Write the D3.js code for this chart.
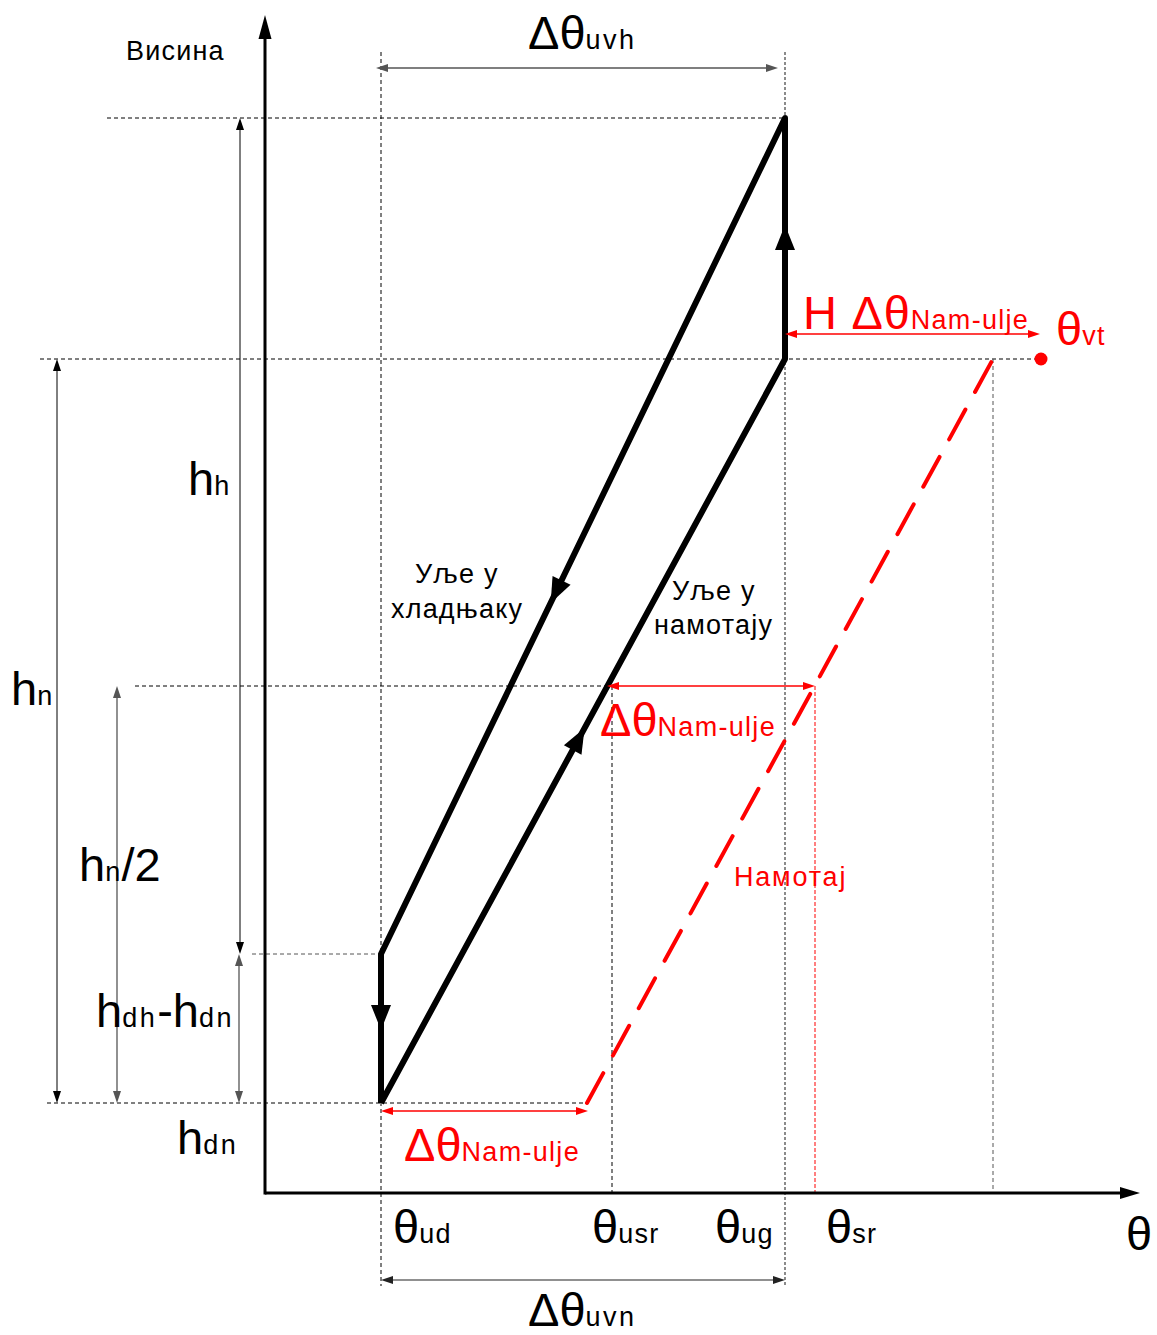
<!DOCTYPE html>
<html><head><meta charset="utf-8">
<script src="https://cdn.jsdelivr.net/npm/d3@7"></script>
<style>body{margin:0;background:#fff}svg{display:block}text{font-family:"Liberation Sans",Arial,sans-serif}</style>
</head><body>
<script>
// ---- data (diagram units) ----
const thetaKeys   = ["ud", "usr", "ug", "sr"];
const thetaValues = [116, 347, 520, 550];
const windingBottomTheta = 322;   // red dashed line start (at h_dn)
const windingTopTheta    = 728;   // red dashed line end (at h_n)
const hotSpotTheta       = 776;   // θvt
const heightKeys   = ["dn", "dh", "half", "n", "h"];
const heightValues = [90, 239, 507, 834, 1075];

const W = 1157, H = 1335;
const x = d3.scaleLinear().domain([0, 875]).range([265, 1140]);
const y = d3.scaleLinear().domain([0, 1178]).range([1193, 15]);
const T = Object.fromEntries(thetaKeys.map((k, i) => [k, thetaValues[i]]));
const Hh = Object.fromEntries(heightKeys.map((k, i) => [k, heightValues[i]]));

const svg = d3.select("body").append("svg").attr("width", W).attr("height", H);
const RED = "#ff0000";

function arrowHead(g, tx, ty, angle, color, len, wid) {
  const ca = Math.cos(angle), sa = Math.sin(angle);
  const bx = tx - len * ca, by = ty - len * sa;
  const px = -sa * wid / 2, py = ca * wid / 2;
  g.append("path").attr("d", `M${tx},${ty}L${bx + px},${by + py}L${bx - px},${by - py}Z`).attr("fill", color);
}
function dimLine(x1, y1, x2, y2, color, sw, len = 12, wid = 8) {
  const g = svg.append("g");
  const a = Math.atan2(y2 - y1, x2 - x1);
  const sx = x1 + Math.cos(a) * len * 0.8, sy = y1 + Math.sin(a) * len * 0.8;
  const ex = x2 - Math.cos(a) * len * 0.8, ey = y2 - Math.sin(a) * len * 0.8;
  g.append("line").attr("x1", sx).attr("y1", sy).attr("x2", ex).attr("y2", ey).attr("stroke", color).attr("stroke-width", sw);
  arrowHead(g, x2, y2, a, color, len, wid);
  arrowHead(g, x1, y1, a + Math.PI, color, len, wid);
}
function dashed(x1, y1, x2, y2, color = "#000", sw = 1, dash = "4,3") {
  svg.append("line").attr("x1", x1).attr("y1", y1).attr("x2", x2).attr("y2", y2)
    .attr("stroke", color).attr("stroke-width", sw).attr("stroke-dasharray", dash);
}
function label(px, py, parts, color = "#000") {
  const t = svg.append("text").attr("x", px).attr("y", py).attr("fill", color);
  parts.forEach(([s, fs, ls]) => {
    const sp = t.append("tspan").attr("font-size", fs).text(s);
    if (ls) sp.attr("letter-spacing", ls);
  });
  return t;
}

// ---- dashed guide lines ----
dashed(107, y(Hh.h), x(T.ug), y(Hh.h));
dashed(40, y(Hh.n), x(hotSpotTheta), y(Hh.n));
dashed(135, y(Hh.half), x(T.usr), y(Hh.half));
dashed(252, y(Hh.dh), x(T.ud), y(Hh.dh), "#555");
dashed(47, y(Hh.dn), x(windingBottomTheta), y(Hh.dn));
dashed(x(T.ud), 52, x(T.ud), 1286);
dashed(x(T.ug), 52, x(T.ug), 1286, "#666", 1.5, "3,2");
dashed(x(T.usr), y(Hh.half), x(T.usr), y(0));
dashed(x(T.sr), y(Hh.half), x(T.sr), y(0), RED, 1, "4,2");
dashed(x(windingTopTheta), y(Hh.n), x(windingTopTheta), y(0), "#555", 1, "4,3");

// ---- axes ----
const ax = svg.append("g");
ax.append("line").attr("x1", x(0)).attr("y1", y(0) + 1.5).attr("x2", x(0)).attr("y2", y(1178) + 20).attr("stroke", "#000").attr("stroke-width", 3);
arrowHead(ax, x(0), y(1178), -Math.PI / 2, "#000", 24, 13);
ax.append("line").attr("x1", x(0)).attr("y1", y(0)).attr("x2", x(875) - 20).attr("y2", y(0)).attr("stroke", "#000").attr("stroke-width", 3);
arrowHead(ax, x(875), y(0), 0, "#000", 20, 12);

// ---- black oil loop ----
const loop = [[T.ud, Hh.dn], [T.ug, Hh.n], [T.ug, Hh.h], [T.ud, Hh.dh], [T.ud, Hh.dn]];
svg.append("path").datum(loop)
  .attr("d", d3.line().x(d => x(d[0])).y(d => y(d[1])))
  .attr("fill", "none").attr("stroke", "#000").attr("stroke-width", 6).attr("stroke-linejoin", "round");
const flowArrows = [[0, 0.504], [1, 0.556], [2, 0.58], [3, 0.51]];
flowArrows.forEach(([i, t]) => {
  const p0 = loop[i], p1 = loop[i + 1];
  const X0 = x(p0[0]), Y0 = y(p0[1]), X1 = x(p1[0]), Y1 = y(p1[1]);
  const a = Math.atan2(Y1 - Y0, X1 - X0);
  arrowHead(svg, X0 + (X1 - X0) * t, Y0 + (Y1 - Y0) * t, a, "#000", 25, 20);
});

// ---- red winding line ----
svg.append("line")
  .attr("x1", x(windingBottomTheta)).attr("y1", y(Hh.dn))
  .attr("x2", x(windingTopTheta)).attr("y2", y(Hh.n))
  .attr("stroke", RED).attr("stroke-width", 4).attr("stroke-dasharray", "34,20").attr("stroke-linecap", "round");
svg.append("circle").attr("cx", x(hotSpotTheta)).attr("cy", y(Hh.n)).attr("r", 6.5).attr("fill", RED);

// ---- dimension arrows ----
dimLine(376, 68, 778, 68, "#555", 1.5);
dimLine(x(T.ud), 1280, x(T.ug), 1280, "#222", 1.2);
dimLine(57, y(Hh.n), 57, y(Hh.dn), "#000", 1);
dimLine(117, y(Hh.half), 117, y(Hh.dn), "#555", 1.3);
dimLine(240, y(Hh.h), 240, y(Hh.dh), "#000", 1);
dimLine(239, y(Hh.dh), 239, y(Hh.dn), "#555", 1.3);
dimLine(x(T.ug), 334, 1040, 334, RED, 1.3);
dimLine(x(T.usr) - 5, y(Hh.half), x(T.sr), y(Hh.half), RED, 1.3);
dimLine(x(T.ud), 1111, x(windingBottomTheta) + 1, 1111, RED, 1.3);

// ---- texts ----
const BIG = 47, SUB = 27, SLS = 1.3, LBL = 27, LLS = 1.2;
label(126, 60, [["Висина", LBL, LLS]]);
label(528, 49, [["Δθ", BIG], ["uvh", SUB, 2.5]]);
label(528, 1326, [["Δθ", BIG], ["uvn", SUB, 2.5]]);
label(188, 495, [["h", BIG], ["h", SUB, SLS]]);
label(11, 705, [["h", BIG], ["n", SUB, SLS]]);
label(79, 881, [["h", BIG], ["n", SUB, SLS], ["/2", BIG]]);
label(96, 1027, [["h", BIG], ["dh", SUB, 2.5], ["-h", BIG], ["dn", SUB, 2.5]]);
label(177, 1154, [["h", BIG], ["dn", SUB, 2.5]]);
label(415, 583, [["Уље у", LBL, LLS]]);
label(391, 618, [["хладњаку", LBL, LLS]]);
label(672, 600, [["Уље у", LBL, LLS]]);
label(654, 634, [["намотају", LBL, LLS]]);
label(734, 886, [["Намотај", LBL, 1.8]], RED);
label(803, 329, [["H Δθ", BIG, 0.8], ["Nam-ulje", SUB, SLS]], RED);
label(1056, 345, [["θ", BIG], ["vt", SUB, SLS]], RED);
label(600, 736, [["Δθ", BIG], ["Nam-ulje", SUB, SLS]], RED);
label(404, 1161, [["Δθ", BIG], ["Nam-ulje", SUB, SLS]], RED);

const tickDx = [12, -20, -70, 11];
thetaKeys.forEach((k, i) => label(x(thetaValues[i]) + tickDx[i], 1243, [["θ", BIG], [k, SUB, SLS]]));
label(1126, 1250, [["θ", BIG]]);
</script>
</body></html>
